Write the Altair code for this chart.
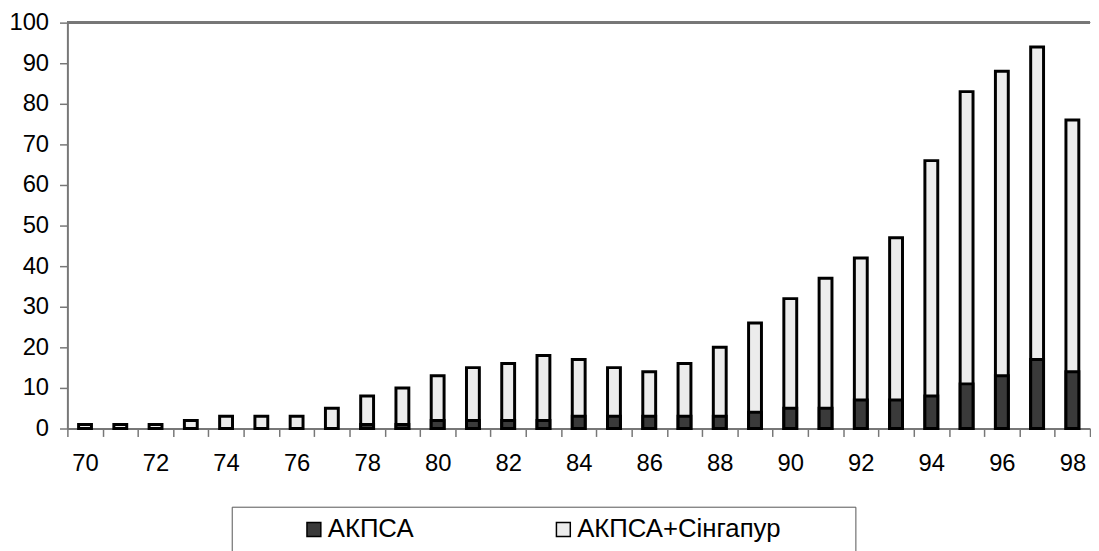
import altair as alt
import pandas as pd

years = [str(y) for y in range(70, 99)]
akpsa = [0, 0, 0, 0, 0, 0, 0, 0, 1, 1, 2, 2, 2, 2, 3, 3, 3, 3, 3, 4, 5, 5, 7, 7, 8, 11, 13, 17, 14]
total = [1, 1, 1, 2, 3, 3, 3, 5, 8, 10, 13, 15, 16, 18, 17, 15, 14, 16, 20, 26, 32, 37, 42, 47, 66, 83, 88, 94, 76]
series = ["АКПСА", "АКПСА+Сінгапур"]
colors = ["#3a3a3a", "#ececec"]
y_ticks = list(range(0, 101, 10))

rows = []
for y, v in zip(years, total):
    rows.append({"year": y, "value": v, "series": series[1]})
for y, v in zip(years, akpsa):
    rows.append({"year": y, "value": v, "series": series[0]})
df = pd.DataFrame(rows)

FONT = "Liberation Sans"
# trailing filler (non-trimmed) to widen the legend box on the right
pad_tail = "\u00a0" * 9 + "\u200b"

bars = alt.Chart(df).mark_bar(width=13, stroke="black", strokeWidth=3).encode(
    x=alt.X("year:O", sort=years,
            scale=alt.Scale(paddingInner=0, paddingOuter=0),
            axis=alt.Axis(title=None, labelAngle=0, tickBand="extent",
                          labelExpr="parseInt(datum.value) % 2 == 0 ? datum.value : ''",
                          labelFontSize=24, labelFont=FONT, labelColor="black",
                          tickSize=8, tickColor="#777", tickWidth=1.5,
                          domainColor="#777", domainWidth=2, labelPadding=15,
                          grid=False)),
    y=alt.Y("value:Q", stack=None,
            scale=alt.Scale(domain=[0, 100], nice=False),
            axis=alt.Axis(title=None, values=y_ticks, labelFontSize=24, labelFont=FONT,
                          labelColor="black", tickSize=8, tickColor="#777", tickWidth=1.5,
                          domainColor="#777", domainWidth=2, labelPadding=11, grid=False)),
    color=alt.Color("series:N",
                    scale=alt.Scale(domain=series, range=colors),
                    legend=alt.Legend(title=None, orient="none", legendX=166, legendY=489,
                                      direction="horizontal", symbolType="square",
                                      symbolSize=196, symbolStrokeColor="black",
                                      symbolStrokeWidth=1.5, symbolOffset=60,
                                      labelOffset=1, labelFontSize=26, labelFont=FONT,
                                      labelColor="black", columnPadding=78, padding=10,
                                      strokeColor="#555", fillColor="white",
                                      labelLimit=500,
                                      labelExpr="datum.value == '" + series[1] + "' ? datum.label + '" + pad_tail + "' : datum.label")),
)

top_rule = alt.Chart(df).mark_rule(color="#777", strokeWidth=2).encode(y=alt.datum(100))

chart = alt.layer(top_rule, bars).properties(
    width=1033, height=410,
    padding={"left": 0, "top": 0, "right": 0, "bottom": 0},
).configure_view(strokeWidth=0)

chart.save("out.html", embed_options={"renderer": "svg", "actions": False})
